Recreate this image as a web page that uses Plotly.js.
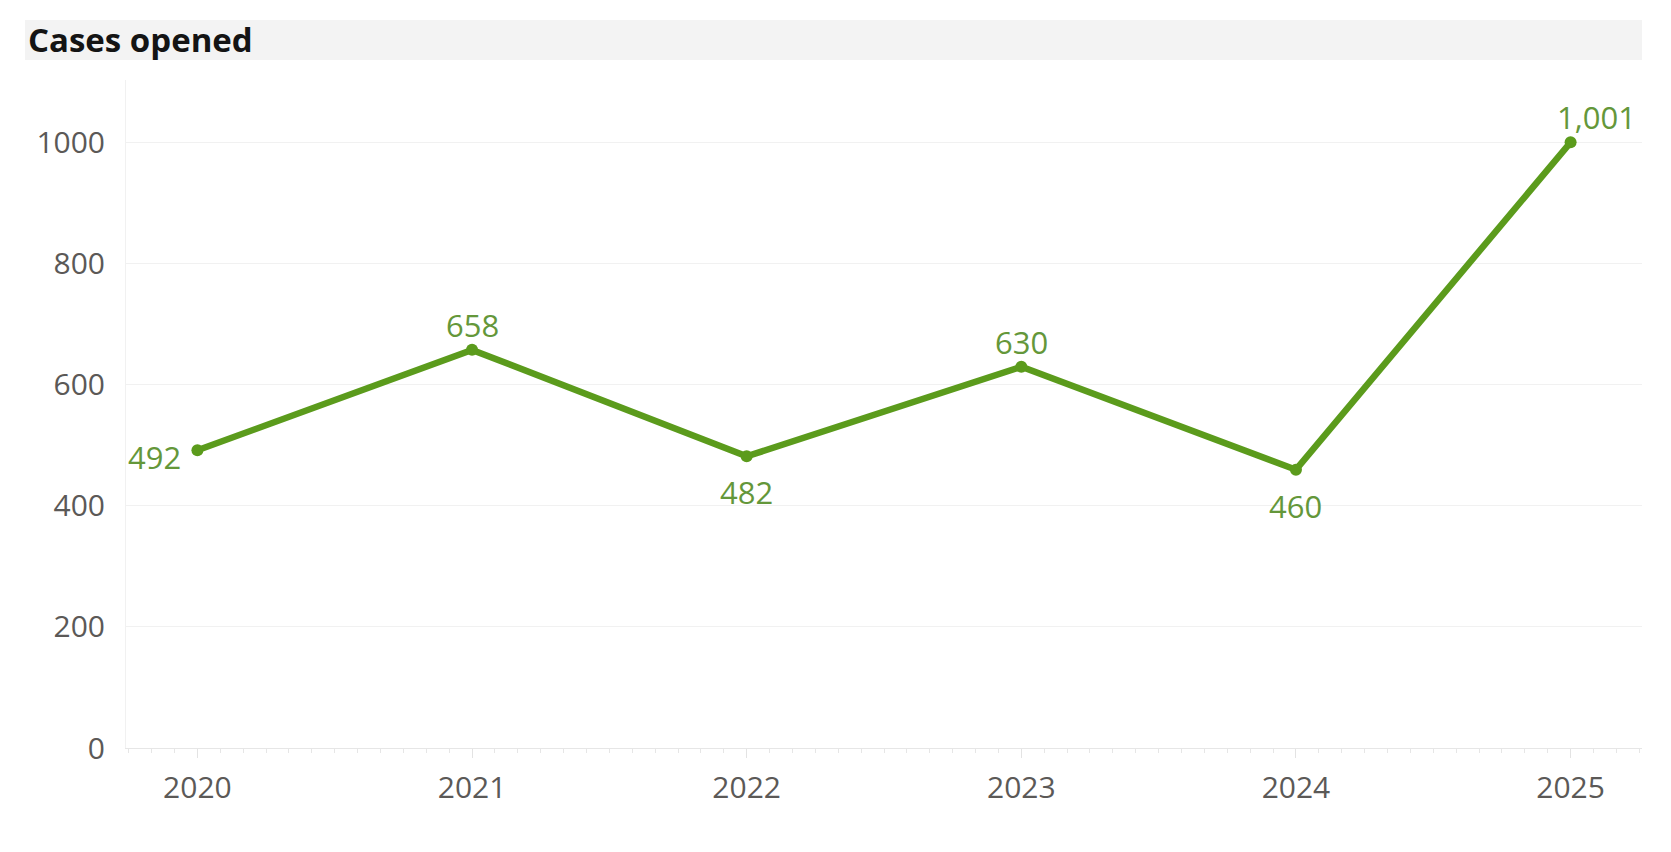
<!DOCTYPE html>
<html>
<head>
<meta charset="utf-8">
<script src="https://cdn.plot.ly/plotly-3.0.1.min.js"></script>
<style>
  html, body { margin: 0; padding: 0; background: #fff; }
  #cases_graph { width: 1671px; height: 852px; }
</style>
</head>
<body>
<div id="cases_graph"></div>
<script>
// values
var years = [2020, 2021, 2022, 2023, 2024, 2025]
var year_labels = ['2020', '2021', '2022', '2023', '2024', '2025']
var cases_opened = [492, 658, 482, 630, 460, 1001]
var label_sides = ['left', 'top', 'bottom', 'top', 'bottom', 'top right']
var y_ticks = [0, 200, 400, 600, 800, 1000]

var green = '#5b9b1c'
var label_green = '#64973a'
var tick_grey = '#5b5957'

// pixel offsets of a data label from its point
var label_offset = {
    'left':      { xanchor: 'right',  xshift: -14, yshift: -7 },
    'top':       { xanchor: 'center', xshift: 0,   yshift: 25 },
    'bottom':    { xanchor: 'center', xshift: 0,   yshift: -36 },
    'top right': { xanchor: 'center', xshift: 26,  yshift: 25 }
}

var data = [
    {
        name: 'Cases opened',
        x: years,
        y: cases_opened,
        type: 'scatter',
        mode: 'lines+markers',
        line: { color: green, width: 6.5 },
        marker: { color: green, size: 12 },
        hoverinfo: 'x+y'
    }
]

var labels = cases_opened.map(function (v, i) {
    var o = label_offset[label_sides[i]]
    return {
        x: years[i],
        y: v,
        xref: 'x',
        yref: 'y',
        text: v.toLocaleString('en-US'),
        showarrow: false,
        xanchor: o.xanchor,
        yanchor: 'middle',
        xshift: o.xshift,
        yshift: o.yshift,
        font: { family: 'Open Sans', size: 31, color: label_green }
    }
})

var layout = {
    width: 1671,
    height: 852,
    margin: { l: 126, r: 29, t: 80, b: 104 },
    paper_bgcolor: '#ffffff',
    plot_bgcolor: '#ffffff',
    showlegend: false,
    font: { family: 'Open Sans', color: tick_grey },
    title: {
        text: 'Cases opened',
        x: 28 / 1671,
        xanchor: 'left',
        y: 1 - 40 / 852,
        yanchor: 'middle',
        font: { family: 'Open Sans', size: 33, weight: 'bold', color: '#141414' }
    },
    annotations: labels,
    shapes: [
        // grey band behind the title
        {
            type: 'rect', xref: 'paper', yref: 'paper', layer: 'below',
            x0: (25 - 126) / 1516, x1: 1,
            y0: (748 - 60) / 668, y1: (748 - 20) / 668,
            fillcolor: '#f3f3f3', line: { width: 0 }
        }
    ],
    xaxis: {
        range: [2019.74, 2025.26],
        tickvals: years,
        ticktext: year_labels,
        ticks: 'outside',
        ticklen: 9,
        tickcolor: '#e3e3e3',
        tickfont: { family: 'Open Sans', size: 30, color: tick_grey },
        ticklabelstandoff: 4,
        minor: { dtick: 1 / 12, tick0: 2020, ticks: 'outside', ticklen: 4, tickcolor: '#e6e6e6', showgrid: false },
        showgrid: false,
        showline: true,
        linecolor: '#e6e6e6',
        linewidth: 1,
        zeroline: false,
        fixedrange: true
    },
    yaxis: {
        range: [0, 1104],
        tickvals: y_ticks,
        ticks: '',
        tickfont: { family: 'Open Sans', size: 30, color: tick_grey },
        ticklabelstandoff: 14,
        showgrid: true,
        gridcolor: '#f1f1f1',
        gridwidth: 1,
        showline: true,
        linecolor: '#f1f1f1',
        zeroline: false,
        fixedrange: true
    }
}

Plotly.newPlot('cases_graph', data, layout, { displayModeBar: false, staticPlot: true })
</script>
</body>
</html>
